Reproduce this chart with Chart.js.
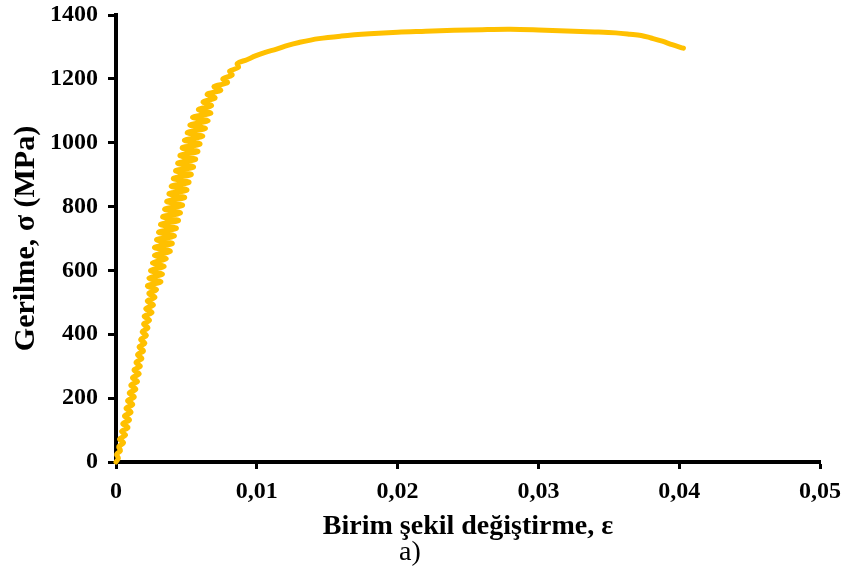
<!DOCTYPE html>
<html>
<head>
<meta charset="utf-8">
<script src="https://cdn.jsdelivr.net/npm/chart.js@4/dist/chart.umd.min.js"></script>
<style>
  html, body { margin: 0; padding: 0; background: #ffffff; }
  #wrap { width: 845px; height: 577px; }
</style>
</head>
<body>
<div id="wrap"><canvas id="c" width="845" height="577"></canvas></div>
<script>
// Tensile test record: strain (ε) and stress σ in MPa.
// Elastic part carries extensometer jitter, plastic part is smooth.
const strain = [
  0, 0.00017, 0.00004, 0.00032, 0.00019, 0.00054, 0.00025, 0.00068, 0.00040,
  0.00085, 0.00048, 0.00096, 0.00060, 0.00107, 0.00071, 0.00119, 0.00082,
  0.00130, 0.00094, 0.00141, 0.00105, 0.00153, 0.00117, 0.00165, 0.00128,
  0.00173, 0.00142, 0.00184, 0.00153, 0.00195, 0.00164, 0.00205, 0.00175,
  0.00216, 0.00186, 0.00227, 0.00196, 0.00238, 0.00200, 0.00256, 0.00211,
  0.00266, 0.00222, 0.00277, 0.00233, 0.00288, 0.00223, 0.00319, 0.00234,
  0.00330, 0.00245, 0.00342, 0.00259, 0.00357, 0.00274, 0.00386, 0.00273,
  0.00400, 0.00288, 0.00415, 0.00302, 0.00429, 0.00316, 0.00444, 0.00331,
  0.00458, 0.00345, 0.00473, 0.00360, 0.00488, 0.00376, 0.00504, 0.00392,
  0.00519, 0.00407, 0.00535, 0.00423, 0.00551, 0.00438, 0.00566, 0.00454,
  0.00582, 0.00470, 0.00597, 0.00486, 0.00616, 0.00506, 0.00635, 0.00525,
  0.00654, 0.00544, 0.00674, 0.00585, 0.00679, 0.00618, 0.00704, 0.00648,
  0.00744, 0.00696, 0.00792, 0.00759, 0.00825, 0.00807, 0.00870, 0.00861,
  0.0093, 0.0099, 0.0106, 0.0114, 0.0122, 0.0130, 0.0144, 0.0160, 0.0180,
  0.0200, 0.0220, 0.0240, 0.0260, 0.0280, 0.0300, 0.0320, 0.0340, 0.0355,
  0.0365, 0.0373, 0.0380, 0.0388, 0.0395, 0.0403
];
const stress = [
  0, 12, 24, 36, 48, 60, 72, 84, 96,
  108, 120, 132, 144, 156, 168, 180, 192,
  204, 216, 228, 240, 252, 264, 276, 288,
  300, 312, 324, 336, 348, 360, 372, 384,
  396, 408, 420, 432, 444, 456, 468, 480,
  492, 504, 516, 528, 540, 552, 564, 576,
  588, 600, 612, 624, 636, 648, 660, 672,
  684, 696, 708, 720, 732, 744, 756, 768,
  780, 792, 804, 816, 828, 840, 852, 864,
  876, 888, 900, 912, 924, 936, 948, 960,
  972, 984, 996, 1008, 1020, 1032, 1044, 1056,
  1068, 1080, 1092, 1104, 1116, 1128, 1140, 1152,
  1164, 1176, 1188, 1200, 1212, 1224, 1236, 1248,
  1260, 1272, 1283, 1293, 1305, 1314, 1326, 1334, 1341,
  1346, 1349, 1352, 1354, 1355, 1353, 1350, 1347, 1344,
  1340, 1336, 1328, 1318, 1307, 1296
];
const xTickLabels = ['0', '0,01', '0,02', '0,03', '0,04', '0,05'];
const yTickLabels = ['0', '200', '400', '600', '800', '1000', '1200', '1400'];

const serif = 'Liberation Serif, Times New Roman, serif';
const points = strain.map((e, i) => ({ x: e, y: stress[i] }));

new Chart(document.getElementById('c'), {
  type: 'scatter',
  data: {
    datasets: [{
      data: points,
      showLine: true,
      borderColor: '#FFC000',
      backgroundColor: '#FFC000',
      borderWidth: 5,
      pointRadius: 0,
      tension: 0.35,
      borderJoinStyle: 'round',
      borderCapStyle: 'round',
      clip: false
    }]
  },
  options: {
    responsive: false,
    animation: false,
    devicePixelRatio: 1,
    layout: { padding: { left: 0, right: 25, top: 15, bottom: 11.4 } },
    plugins: {
      legend: { display: false },
      tooltip: { enabled: false },
      title: {
        display: true,
        position: 'bottom',
        text: 'a)',
        color: '#000000',
        padding: 0,
        font: { family: serif, size: 28, weight: 'normal', lineHeight: 0.9 }
      }
    },
    scales: {
      x: {
        type: 'linear',
        min: 0,
        max: 0.05,
        afterFit: s => {
          s.height = 78.4;
          s.paddingLeft = 0;
          s.paddingRight = 0;
        },
        ticks: {
          stepSize: 0.01,
          color: '#000000',
          padding: 8,
          maxRotation: 0,
          font: { family: serif, size: 24, weight: 'bold' },
          callback: (v, i) => xTickLabels[i]
        },
        grid: {
          display: true,
          drawOnChartArea: false,
          drawTicks: true,
          tickLength: 7,
          tickWidth: 3,
          tickColor: '#000000'
        },
        border: { display: true, color: '#000000', width: 4 },
        title: {
          display: true,
          text: 'Birim şekil değiştirme, ε',
          color: '#000000',
          padding: 0,
          font: { family: serif, size: 28, weight: 'bold', lineHeight: 1.0 }
        }
      },
      y: {
        min: 0,
        max: 1400,
        afterFit: s => {
          s.width = 116;
          s.paddingTop = 0;
          s.paddingBottom = 0;
        },
        ticks: {
          stepSize: 200,
          color: '#000000',
          padding: 10,
          font: { family: serif, size: 24, weight: 'bold' },
          callback: (v, i) => yTickLabels[i]
        },
        grid: {
          display: true,
          drawOnChartArea: false,
          drawTicks: true,
          tickLength: 8,
          tickWidth: 3,
          tickColor: '#000000'
        },
        border: { display: true, color: '#000000', width: 4 },
        title: {
          display: true,
          text: 'Gerilme, σ (MPa)',
          color: '#000000',
          padding: { top: 11, bottom: 0 },
          font: { family: serif, size: 30, weight: 'bold', lineHeight: 1.0 }
        }
      }
    }
  }
});
</script>
</body>
</html>
